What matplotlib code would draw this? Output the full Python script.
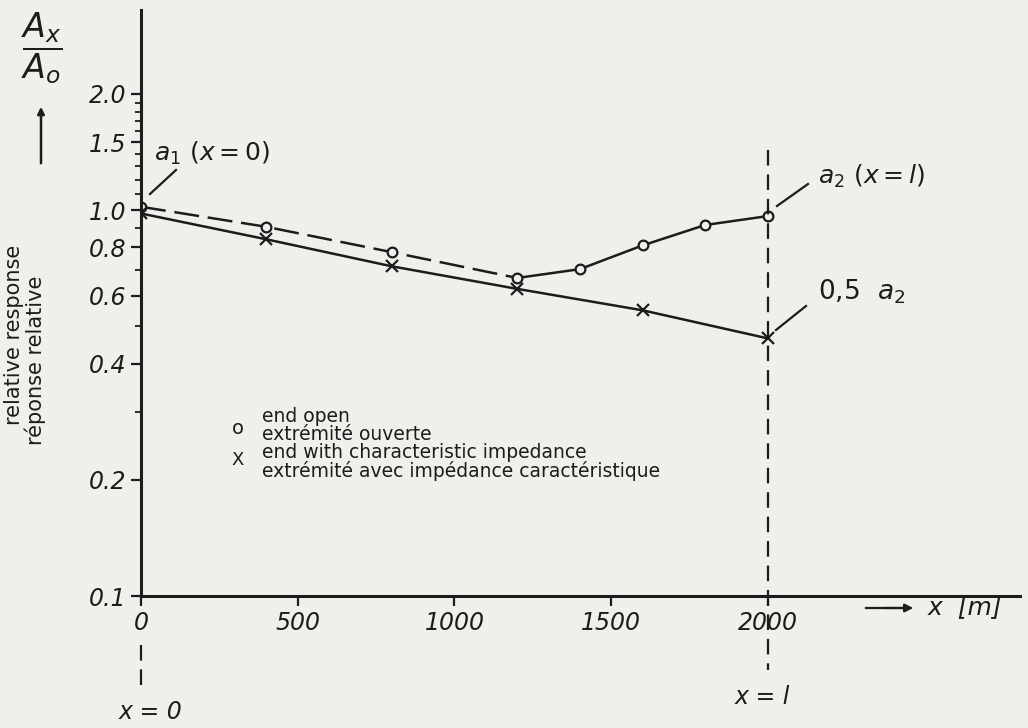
import matplotlib
matplotlib.use('Agg')
import matplotlib.pyplot as plt
from matplotlib.ticker import FixedLocator, NullFormatter

# distance along the line [m] and relative response Ax/Ao
open_x = [0, 400, 800, 1200, 1400, 1600, 1800, 2000]
open_y = [1.02, 0.905, 0.778, 0.667, 0.703, 0.81, 0.915, 0.965]
char_x = [0, 400, 800, 1200, 1600, 2000]
char_y = [0.98, 0.84, 0.715, 0.625, 0.55, 0.465]

x_ticks = [0, 500, 1000, 1500, 2000]
x_tick_labels = ['0', '500', '1000', '1500', '2000']
y_ticks = [0.1, 0.2, 0.4, 0.6, 0.8, 1.0, 1.5, 2.0]
y_tick_labels = ['0.1', '0.2', '0.4', '0.6', '0.8', '1.0', '1.5', '2.0']
y_minor = [0.3, 0.5, 0.7, 0.9, 1.1, 1.2, 1.3, 1.4, 1.6, 1.7, 1.8, 1.9]

legend_lines = ['end open', 'extrémité ouverte',
                'end with characteristic impedance',
                'extrémité avec impédance caractéristique']

W, H = 1028, 728
ink = '#1c1c1c'
paper = '#efefec'


def fx(px):
    return px / W


def fy(py):
    return 1 - py / H


fig = plt.figure(figsize=(W / 100, H / 100), dpi=100, facecolor=paper)
ax = fig.add_axes([fx(141), fy(596), (1020 - 141) / W, (596 - 10) / H])
ax.set_facecolor(paper)
ax.set_yscale('log')
ax.set_xlim(0, 2804)
ax.set_ylim(0.1, 3.30)

for s in ['top', 'right']:
    ax.spines[s].set_visible(False)
for s in ['left', 'bottom']:
    ax.spines[s].set_linewidth(2.2)
    ax.spines[s].set_color(ink)

ax.yaxis.set_major_locator(FixedLocator(y_ticks))
ax.set_yticklabels(y_tick_labels)
ax.yaxis.set_minor_locator(FixedLocator(y_minor))
ax.yaxis.set_minor_formatter(NullFormatter())
ax.set_xticks(x_ticks)
ax.set_xticklabels(x_tick_labels)
ax.tick_params(axis='both', which='major', length=7, width=1.6, color=ink,
               labelsize=17, labelcolor=ink)
ax.tick_params(axis='y', which='minor', length=4, width=1.3, color=ink)
for lab in ax.get_xticklabels() + ax.get_yticklabels():
    lab.set_fontstyle('italic')

# end open: dashed down to the minimum, then rising curve
ax.plot(open_x[:4], open_y[:4], color=ink, lw=1.8, dashes=(10, 3.5))
ax.plot(open_x[3:], open_y[3:], color=ink, lw=1.8)
ax.plot(open_x, open_y, 'o', ms=7, mfc=paper, mec=ink, mew=1.6)

# end with characteristic impedance
ax.plot(char_x, char_y, color=ink, lw=1.8)
ax.plot(char_x, char_y, 'x', ms=8, mec=ink, mew=1.6)

# vertical dashed markers at x = 0 and x = l
trans = ax.get_xaxis_transform()
ax.plot([2000, 2000], [(596 - 150) / 586, (596 - 670) / 586], transform=trans,
        color=ink, lw=1.6, dashes=(7, 4), clip_on=False)
ax.plot([0, 0], [(596 - 645) / 586, (596 - 690) / 586], transform=trans,
        color=ink, lw=1.6, dashes=(7, 4), clip_on=False)

fig.text(fx(150), fy(712), 'x = 0', fontsize=17, style='italic', color=ink,
         ha='center', va='center')
fig.text(fx(762), fy(697), 'x = l', fontsize=17, style='italic', color=ink,
         ha='center', va='center')

# x-axis caption with arrow
fig.add_artist(plt.Line2D([fx(866), fx(905)], [fy(608), fy(608)], color=ink, lw=1.6))
ax.annotate('', xy=(fx(916), fy(608)), xytext=(fx(880), fy(608)),
            xycoords='figure fraction', textcoords='figure fraction',
            arrowprops=dict(arrowstyle='-|>', color=ink, lw=1.6, mutation_scale=12))
fig.text(fx(928), fy(607), 'x  [m]', fontsize=18, style='italic', color=ink,
         va='center', ha='left')

# y-axis captions
fig.text(fx(42), fy(48), r'$\dfrac{A_x}{A_o}$', fontsize=24, color=ink,
         ha='center', va='center')
ax.annotate('', xy=(fx(41), fy(104)), xytext=(fx(41), fy(166)),
            xycoords='figure fraction', textcoords='figure fraction',
            arrowprops=dict(arrowstyle='-|>', color=ink, lw=1.8, mutation_scale=10))
fig.text(fx(14), fy(335), 'relative response', rotation=90, fontsize=15,
         color=ink, ha='center', va='center')
fig.text(fx(35), fy(360), 'réponse relative', rotation=90, fontsize=15,
         color=ink, ha='center', va='center')

# point labels with leader lines
leaders = [((150, 194), (176, 170)), ((777, 206), (808, 184)), ((776, 330), (806, 306))]
for (x0, y0), (x1, y1) in leaders:
    fig.add_artist(plt.Line2D([fx(x0), fx(x1)], [fy(y0), fy(y1)], color=ink, lw=1.6))
fig.text(fx(154), fy(153), r'$a_1\ (x=0)$', fontsize=18, color=ink, va='center')
fig.text(fx(818), fy(176), r'$a_2\ (x=l)$', fontsize=18, color=ink, va='center')
fig.text(fx(818), fy(292), r'$0{,}5\ \ a_2$', fontsize=19, color=ink, va='center')

# legend block
fig.text(fx(238), fy(428), 'o', fontsize=14, color=ink, ha='center', va='center')
fig.text(fx(238), fy(460), 'X', fontsize=13, color=ink, ha='center', va='center')
for i, line in enumerate(legend_lines):
    fig.text(fx(262), fy(417 + 18 * i), line, fontsize=13.5, color=ink,
             ha='left', va='center')

fig.savefig('out.png', dpi=100, facecolor=paper)
